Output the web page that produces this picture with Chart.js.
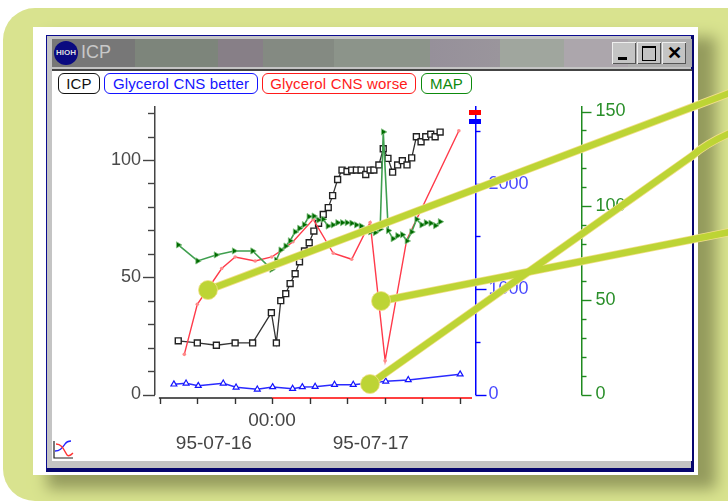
<!DOCTYPE html>
<html>
<head>
<meta charset="utf-8">
<title>ICP</title>
<script src="https://cdn.jsdelivr.net/npm/chart.js@4"></script>
<style>
html, body { margin: 0; padding: 0; background: #fff; }
#page { position: relative; width: 728px; height: 501px; overflow: hidden; font-family: "Liberation Sans", Arial, sans-serif; }
#frame { position: absolute; left: 3px; top: 8px; width: 780px; height: 493px; border-radius: 32px; background: #d9e38f; }
#mat { position: absolute; left: 33px; top: 27px; width: 665px; height: 448px; background: #fff; box-shadow: 16px 12px 14px 2px #949b5d; }
#win { position: absolute; left: 46px; top: 35px; width: 644px; height: 432px; background: #c4c4c4; border: 1px solid #0a0a90; border-right: 3px solid #06066e; border-bottom: 4px solid #06066e; box-sizing: content-box; }
#client { position: absolute; left: 52px; top: 71px; width: 640px; height: 390px; background: #fff; border-top: 2px solid #444; margin-top: -2px; }
#titlebar { position: absolute; left: 52px; top: 39px; width: 640px; height: 28px; background: linear-gradient(90deg, #777 0, #777 13%, #7d857b 13%, #7d857b 26%, #877f87 26%, #877f87 33%, #848a82 33%, #848a82 44%, #8c948a 44%, #8c948a 59%, #96909a 59%, #9a959c 70%, #a0a69e 70%, #a0a69e 80%, #aca6ac 80%, #aca6ac 90%, #adadad 90%); }
#titleText { position: absolute; left: 81px; top: 42px; font-size: 18px; color: #c8c8c8; }
#logo { position: absolute; left: 54px; top: 41px; width: 24px; height: 24px; border-radius: 50%; background: #0a0a80; color: #ddd; font-size: 8px; font-weight: bold; line-height: 24px; text-align: center; overflow: hidden; }
.btn { position: absolute; top: 42px; width: 24px; height: 22px; background: #c4c4c4; box-shadow: inset 1px 1px 0 #eee, inset -1px -1px 0 #555; color: #000; }
.leg { position: absolute; top: 73px; height: 19px; line-height: 19px; border: 1px solid; border-radius: 6px; text-align: center; font-size: 15px; letter-spacing: 0.15px; box-sizing: content-box; white-space: nowrap; background: #fff; }
canvas { position: absolute; left: 0; top: 0; }
.flag { position: absolute; left: 469px; width: 12px; height: 5px; }
svg { position: absolute; left: 0; top: 0; pointer-events: none; }
</style>
</head>
<body>
<div id="page">
    <div id="frame"></div>
    <div id="mat"></div>
    <div id="win"></div>
    <div id="titlebar"></div>
    <div id="logo">HIOH</div>
    <div id="titleText">ICP</div>
    <div class="btn" style="left:612px"><div style="position:absolute;left:6px;bottom:4px;width:9px;height:3px;background:#000"></div></div>
    <div class="btn" style="left:637px"><div style="position:absolute;left:5px;top:4px;width:12px;height:12px;border:1px solid #000;border-top-width:2px"></div></div>
    <div class="btn" style="left:662px;font-size:18px;font-weight:bold;text-align:center;line-height:22px">✕</div>
    <div id="client"></div>
    <div id="legend"></div>
    <canvas id="icpChart" width="728" height="501"></canvas>
    <div class="flag" style="top:110px;background:#f00"></div>
    <div class="flag" style="top:119px;background:#00f"></div>
    <svg width="728" height="501">
        <!-- small chart icon, bottom left -->
        <path d="M54 441 V458 H73" fill="none" stroke="#222" stroke-width="1.2"/>
        <path d="M55 451 C60 451 62 448 65 444 C67 441 69 441 71 441" fill="none" stroke="#22f" stroke-width="1.3"/>
        <path d="M56 444 C62 444 64 450 67 455 C69 457 71 455 73 453" fill="none" stroke="#f33" stroke-width="1.3"/>
        <!-- callouts -->
        <g fill="none" stroke-linecap="round">
            <g stroke="#f2df8a" stroke-width="8">
                <path d="M208 290 L735 91"/>
                <path d="M381 301 L735 231"/>
                <path d="M370 384 L692 156 Q708 142 735 131"/>
            </g>
            <g stroke="#bdd435" stroke-width="6.5">
                <path d="M208 290 L735 91"/>
                <path d="M381 301 L735 231"/>
                <path d="M370 384 L692 156 Q708 142 735 131"/>
            </g>
        </g>
        <circle cx="208" cy="290" r="9.5" fill="#bdd435" stroke="#f2df8a" stroke-width="0.8"/>
        <circle cx="381" cy="301" r="9.5" fill="#bdd435" stroke="#f2df8a" stroke-width="0.8"/>
        <circle cx="370" cy="384" r="9.5" fill="#bdd435" stroke="#f2df8a" stroke-width="0.8"/>
    </svg>
</div>
<script>
// hours relative to the 00:00 tick
const icpHours = [-15, -11.95, -8.9, -5.9, -3.1, -0.1, 0.7, 1.4, 2.2, 2.9, 3.7, 4.4, 5.2, 5.95, 6.7, 7.45, 8.2, 9, 9.7, 10.5, 11.2, 12, 12.75, 13.5, 14.25, 15, 15.7, 16.3, 17.1, 17.8, 18.55, 19.3, 20.1, 20.85, 21.6, 22.35, 23.1, 23.85, 24.6, 25.4, 26.1, 26.9];
const icpValues = [22.9, 22, 21, 22, 22, 34.9, 22, 40, 43, 47.3, 51.5, 56.6, 61.2, 64.7, 69.7, 73, 76.8, 79.7, 84.8, 91.7, 95.7, 95.1, 95.7, 95.7, 95.7, 93.8, 95.7, 95.7, 97.9, 104.8, 100.7, 94.8, 97.9, 99.7, 97.9, 100.9, 109.9, 107.8, 109.9, 111, 109.9, 111.9];

const betterHours = [-15.7, -13.75, -11.8, -7.8, -5.75, -2.35, 0.1, 3.3, 4.85, 6.9, 10, 13, 15.7, 18.2, 21.8, 30.1];
const betterValues = [97, 106, 83, 106, 68, 49, 71, 55, 71, 74, 93, 93, 109, 125, 138, 192];

const worseHours = [-14.03, -11.95, -8.05, -5.9, -2.7, -0.05, 1.35, 3.35, 6.6, 9.8, 12.75, 15.7, 18.1, 21.55, 29.9];
const worseValues = [381, 856, 1195, 1305, 1267, 1305, 1361, 1450, 1662, 1340, 1283, 1632, 321, 1466, 2503];

const mapHours = [-15, -11.9, -8.95, -6.05, -3.1, -0.05, 0.7, 1.4, 2.2, 2.9, 3.7, 4.4, 5.15, 5.9, 6.7, 7.45, 8.2, 8.95, 9.75, 10.5, 11.25, 12, 12.75, 13.5, 14.25, 15, 15.75, 16.5, 17.3, 17.8, 18.6, 19.35, 20.1, 20.85, 21.6, 22.35, 23.15, 23.95, 24.65, 25.4, 26.15, 26.9];
const mapValues = [79.3, 70.8, 74, 76.1, 76.1, 66.3, 71.3, 76.6, 78.7, 81.5, 86.2, 88.1, 90, 94.3, 94.6, 92.5, 92.9, 89.3, 89.9, 91.1, 91.1, 91.1, 90.8, 89.9, 89.3, 87.2, 86.2, 85.8, 87.6, 139.2, 86.9, 82.6, 84.2, 84.7, 81.4, 86.2, 92.9, 89.9, 91.1, 90.8, 89.5, 91.6];

const seriesNames = ["ICP", "Glycerol CNS better", "Glycerol CNS worse", "MAP"];

const xTicks = [-18, -12, -6, 0, 6, 12, 18, 24, 30];
const dateLabels = ["95-07-16", "95-07-17"];
const dateHours = [-9.3, 15.8];

const icpTicks = [0, 10, 20, 30, 40, 50, 60, 70, 80, 90, 100, 110, 120];
const concTicks = [0, 500, 1000, 1500, 2000, 2500];
const mapTicks = [0, 10, 20, 30, 40, 50, 60, 70, 80, 90, 100, 110, 120, 130, 140, 150];

function toPoints(xs, ys) {
    return xs.map((x, i) => ({x: x, y: ys[i]}));
}

// legend boxes above the plot
const legendBoxes = [
    {left: 58, width: 40, color: "#111"},
    {left: 104, width: 152, color: "#1414ff"},
    {left: 262, width: 152, color: "#ff1a1a"},
    {left: 421, width: 49, color: "#0d8a0d"}
];
legendBoxes.forEach((b, i) => {
    const d = document.createElement('div');
    d.className = 'leg';
    d.style.left = b.left + 'px';
    d.style.width = b.width + 'px';
    d.style.color = b.color;
    d.style.borderColor = b.color;
    d.textContent = seriesNames[i];
    document.getElementById('legend').appendChild(d);
});

// own tick marks: chart.js has one tick length per axis, this one has long and short ones
const tickMarks = {
    id: 'tickMarks',
    afterDraw(chart) {
        const ctx = chart.ctx;
        const defs = [
            {id: 'y', dir: -1, long: 12, short: 7, every: 50, color: '#444'},
            {id: 'yConc', dir: 1, long: 11, short: 5, every: 1000, color: '#0000ff'},
            {id: 'yMap', dir: 1, long: 10, short: 5, every: 50, color: '#1f8a1f'}
        ];
        ctx.save();
        defs.forEach(d => {
            const s = chart.scales[d.id];
            const x0 = d.dir < 0 ? s.right : s.left;
            ctx.strokeStyle = d.color;
            ctx.lineWidth = 1.4;
            s.ticks.forEach(t => {
                const py = Math.round(s.getPixelForValue(t.value)) + 0.5;
                const len = t.value % d.every == 0 ? d.long : d.short;
                ctx.beginPath();
                ctx.moveTo(x0, py);
                ctx.lineTo(x0 + d.dir * len, py);
                ctx.stroke();
            });
        });

        // time axis sits a little under the zero line, black up to 00:00 then red
        const sx = chart.scales.x;
        const ay = chart.chartArea.bottom + 3.5;
        ctx.lineWidth = 1.4;
        ctx.strokeStyle = '#222';
        ctx.beginPath();
        ctx.moveTo(sx.getPixelForValue(-18.1), ay);
        ctx.lineTo(sx.getPixelForValue(0), ay);
        ctx.stroke();
        ctx.strokeStyle = '#ff0000';
        ctx.beginPath();
        ctx.moveTo(sx.getPixelForValue(0), ay);
        ctx.lineTo(sx.getPixelForValue(32), ay);
        ctx.stroke();
        ctx.strokeStyle = '#333';
        sx.ticks.forEach(t => {
            const px = Math.round(sx.getPixelForValue(t.value)) + 0.5;
            ctx.beginPath();
            ctx.moveTo(px, ay);
            ctx.lineTo(px, ay + 6);
            ctx.stroke();
        });
        ctx.restore();
    }
};

function yAxis(position, weight, max, ticks, width, every, color, textColor, pad) {
    return {
        type: 'linear',
        position: position,
        weight: weight,
        min: 0,
        max: max,
        grid: {display: false, drawTicks: false},
        border: {display: true, color: color, width: 1.5},
        afterBuildTicks: s => { s.ticks = ticks.map(v => ({value: v})); },
        afterFit: s => { s.width = width; },
        ticks: {
            autoSkip: false,
            padding: pad,
            color: textColor,
            font: {family: '"Liberation Sans"', size: 18},
            callback: v => v % every == 0 ? String(v) : ''
        }
    };
}

new Chart(document.getElementById('icpChart').getContext('2d'), {
    type: 'line',
    plugins: [tickMarks],
    data: {
        datasets: [
            {
                label: seriesNames[0],
                data: toPoints(icpHours, icpValues),
                yAxisID: 'y',
                order: 3,
                borderColor: '#333',
                borderWidth: 1.3,
                pointStyle: 'rect',
                pointRadius: 4.2,
                pointBorderColor: '#222',
                pointBorderWidth: 1.4,
                pointBackgroundColor: '#fff'
            },
            {
                label: seriesNames[1],
                data: toPoints(betterHours, betterValues),
                yAxisID: 'yConc',
                order: 2,
                borderColor: '#2a2aff',
                borderWidth: 1.5,
                pointStyle: 'triangle',
                pointRadius: 3.4,
                pointBorderColor: '#1414ff',
                pointBorderWidth: 1.2,
                pointBackgroundColor: '#fff'
            },
            {
                label: seriesNames[2],
                data: toPoints(worseHours, worseValues),
                yAxisID: 'yConc',
                order: 1,
                borderColor: '#ff3a4a',
                borderWidth: 1.4,
                pointStyle: 'circle',
                pointRadius: 1.8,
                pointBorderWidth: 0,
                pointBackgroundColor: '#ff8a8a'
            },
            {
                label: seriesNames[3],
                data: toPoints(mapHours, mapValues),
                yAxisID: 'yMap',
                order: 0,
                borderColor: '#3f9f4f',
                borderWidth: 1.6,
                pointStyle: 'triangle',
                pointRotation: 90,
                pointRadius: 3.6,
                pointBorderColor: '#7fc07f',
                pointBorderWidth: 0.8,
                pointBackgroundColor: '#006a00'
            }
        ]
    },
    options: {
        responsive: false,
        animation: false,
        devicePixelRatio: 1,
        layout: {padding: {left: 100, right: 86.5, top: 107, bottom: 38}},
        plugins: {legend: {display: false}, title: {display: false}, tooltip: {enabled: false}},
        elements: {line: {tension: 0, fill: false}},
        scales: {
            x: {
                type: 'linear',
                position: 'bottom',
                weight: 0,
                min: -18.72,
                max: 32.56,
                grid: {display: false, drawTicks: false},
                border: {display: false},
                afterBuildTicks: s => { s.ticks = xTicks.map(v => ({value: v})); },
                afterFit: s => { s.height = 36.5; },
                ticks: {
                    autoSkip: false,
                    maxRotation: 0,
                    padding: 15,
                    color: '#444',
                    font: {family: '"Liberation Sans"', size: 19},
                    callback: v => v == 0 ? '00:00' : ''
                }
            },
            xDates: {
                type: 'linear',
                position: 'bottom',
                weight: 1,
                min: -18.72,
                max: 32.56,
                grid: {display: false, drawTicks: false},
                border: {display: false},
                afterBuildTicks: s => { s.ticks = dateHours.map(v => ({value: v})); },
                afterFit: s => { s.height = 32; },
                ticks: {
                    autoSkip: false,
                    maxRotation: 0,
                    padding: 1,
                    color: '#444',
                    font: {family: '"Liberation Sans"', size: 19},
                    callback: v => dateLabels[dateHours.indexOf(v)]
                }
            },
            y: yAxis('left', 0, 122.6, icpTicks, 55, 50, '#444', '#4a4a4a', 14),
            yConc: yAxis('right', 0, 2728, concTicks, 106, 1000, '#0000ff', '#4a4aff', 13),
            yMap: yAxis('right', 1, 152.4, mapTicks, 60, 50, '#1f8a1f', '#2a8f2a', 14)
        }
    }
});
</script>
</body>
</html>
